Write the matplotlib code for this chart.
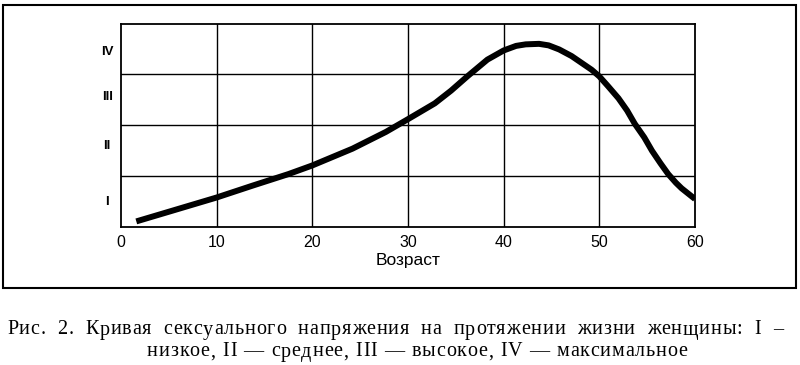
import matplotlib
matplotlib.use("Agg")
import matplotlib.pyplot as plt
from matplotlib.patches import Rectangle

# ---- data ----
age = [1.6, 5, 10, 13.7, 17.5, 20, 24.2, 27.7, 30, 32.8, 34.5, 36.2, 38.3,
       40, 41.3, 42.3, 43.7, 44.7, 45.8, 47.1, 49.2, 50, 50.9, 52, 52.9,
       53.7, 54.7, 55.5, 56.4, 57.2, 58.0, 58.6, 59.4, 60]
level = [0.11, 0.30, 0.58, 0.81, 1.04, 1.21, 1.54, 1.87, 2.12, 2.43, 2.68,
         2.96, 3.29, 3.47, 3.56, 3.59, 3.60, 3.57, 3.49, 3.36, 3.09, 2.96,
         2.77, 2.53, 2.29, 2.03, 1.76, 1.50, 1.25, 1.04, 0.87, 0.76, 0.64,
         0.55]
x_ticks = [0, 10, 20, 30, 40, 50, 60]
y_grid = [1, 2, 3]
y_label_pos = [0.53, 1.62, 2.58, 3.47]
y_labels = ["I", "II", "III", "IV"]
x_label = "Возраст"
caption1 = "Рис. 2. Кривая сексуального напряжения на протяжении жизни женщины: I –"
caption2 = "низкое, II — среднее, III — высокое, IV — максимальное"

W, H = 800, 365
fig = plt.figure(figsize=(8, 3.65), dpi=100)
fig.patch.set_facecolor("white")

# outer frame
fig.add_artist(Rectangle((3 / W, 1 - 288 / H), 793 / W, 283 / H,
                         transform=fig.transFigure, fill=False,
                         edgecolor="black", linewidth=1.5))

ax = fig.add_axes([121 / W, 1 - 227 / H, 574 / W, 203.5 / H])
ax.plot(age, level, color="black", linewidth=4.3, solid_joinstyle="round",
        solid_capstyle="butt")
ax.set_xlim(0, 60)
ax.set_ylim(0, 4)

ax.set_xticks(x_ticks)
ax.set_xticklabels([str(t) for t in x_ticks], fontfamily="Liberation Sans",
                   fontsize=11.5)
ax.tick_params(axis="x", length=0, pad=6)
for xv in x_ticks[1:-1]:
    ax.axvline(xv, color="black", linewidth=1.0)
for yv in y_grid:
    ax.axhline(yv, color="black", linewidth=1.0)

ax.set_yticks(y_label_pos)
ax.set_yticklabels(y_labels, fontfamily="Liberation Sans", fontweight="bold",
                   fontsize=9.5)
ax.tick_params(axis="y", length=0, pad=10)
for lab in ax.get_yticklabels():
    lab.set_horizontalalignment("center")

for s in ax.spines.values():
    s.set_linewidth(1.3)

ax.set_xlabel(x_label, fontfamily="Liberation Sans", fontsize=12.5, labelpad=2)

# ---- caption, letter-spaced and justified like the printed original ----
renderer = fig.canvas.get_renderer()
FS = 14.5
FAM = "Liberation Serif"


def text_w(s):
    t = fig.text(0, 0, s, fontfamily=FAM, fontsize=FS)
    w = t.get_window_extent(renderer=renderer).width
    t.remove()
    return w


base = text_w("HH")
adv_cache = {}


def adv(c):
    if c not in adv_cache:
        adv_cache[c] = text_w("H" + c + "H") - base
    return adv_cache[c]


def spread_line(s, x0, x1, yc, track=0.8):
    words = s.split(" ")
    widths = [sum(adv(c) for c in wd) + track * (len(wd) - 1) for wd in words]
    gap = (x1 - x0 - sum(widths)) / (len(words) - 1)
    x = x0
    for wd, ww in zip(words, widths):
        cx = x
        for c in wd:
            fig.text(cx / W, 1 - yc / H, c, fontfamily=FAM, fontsize=FS,
                     ha="left", va="center")
            cx += adv(c) + track
        x += ww + gap


spread_line(caption1, 7, 783, 330)
spread_line(caption2, 147, 687, 352)

fig.savefig("out.png", dpi=100)
